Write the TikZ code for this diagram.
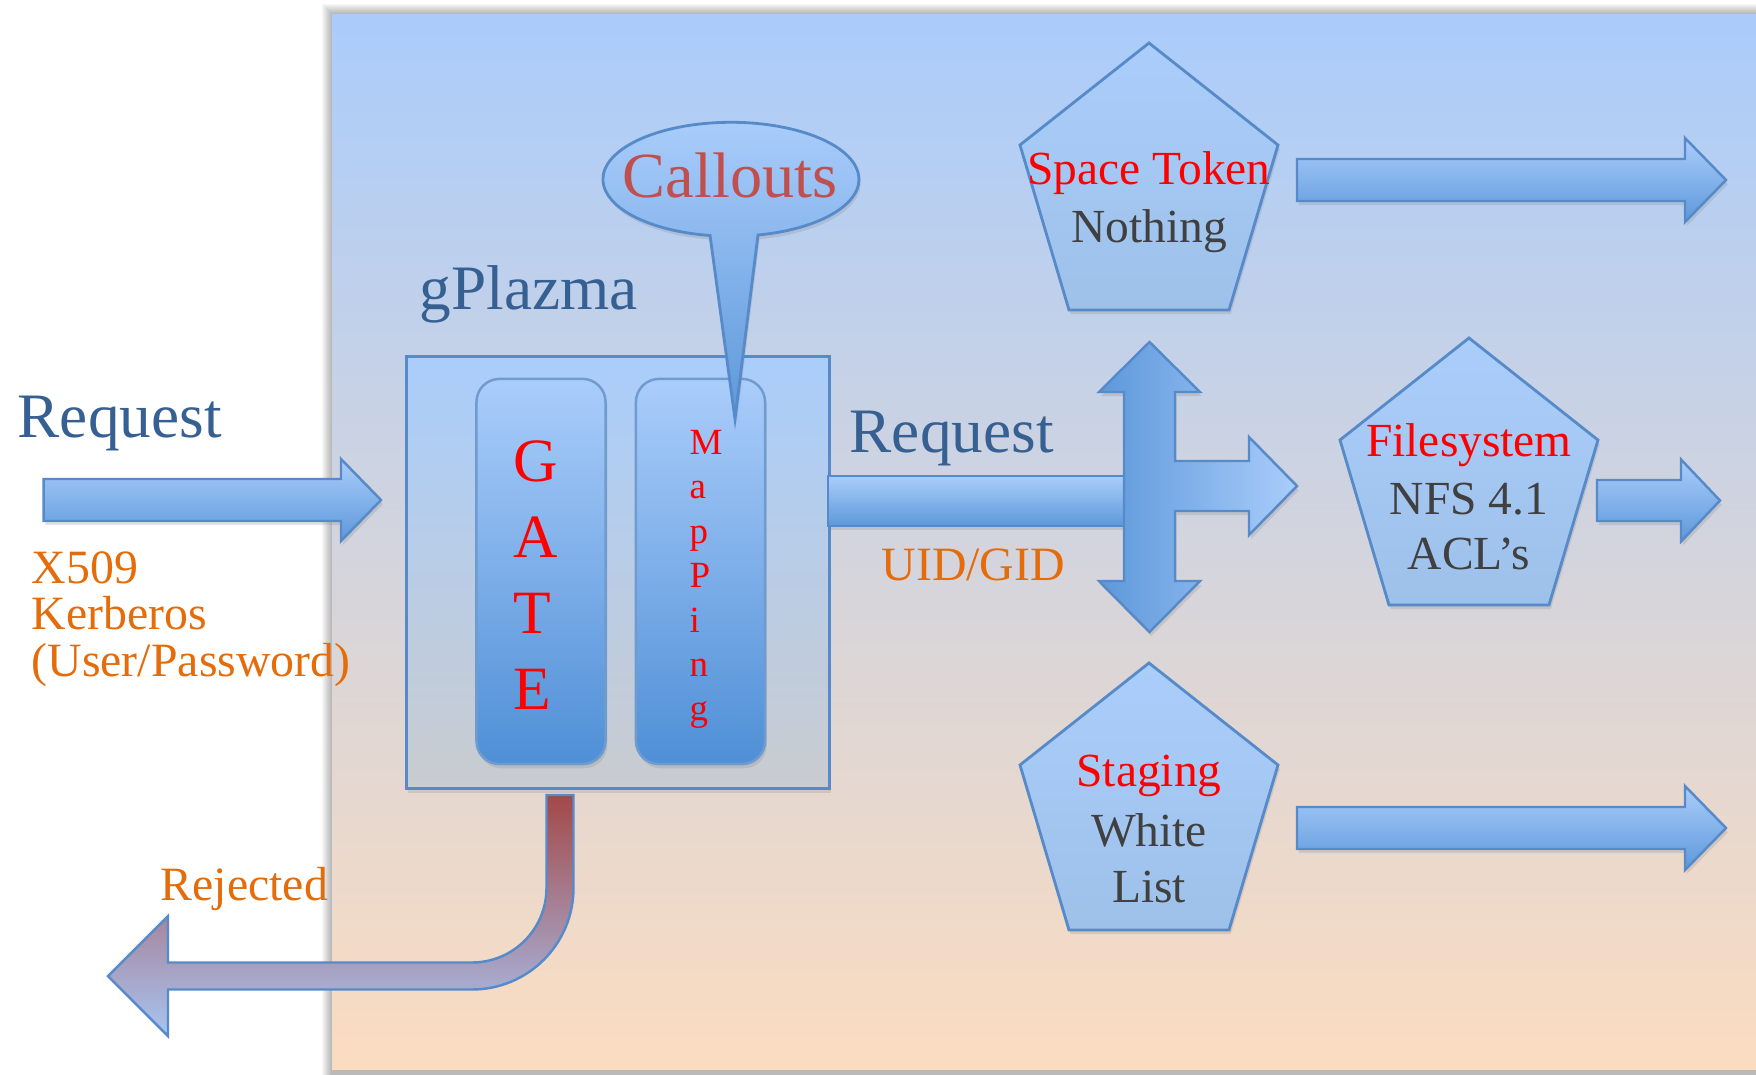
\documentclass[tikz,border=0pt]{standalone}
\usepackage{fontspec}
\setmainfont{Liberation Serif}
\usetikzlibrary{shadows}

\definecolor{txtblue}{RGB}{55,96,146}
\definecolor{callred}{RGB}{192,80,77}
\definecolor{orng}{RGB}{228,108,10}
\definecolor{dgray}{RGB}{64,64,64}
\definecolor{edgeblue}{RGB}{86,138,200}
\definecolor{ltblue}{RGB}{170,205,251}
\definecolor{midblue}{RGB}{93,152,218}
\definecolor{colblue}{RGB}{79,143,214}
\definecolor{pentbot}{RGB}{158,193,234}
\definecolor{boxgray}{RGB}{201,204,208}
\definecolor{bgtop}{RGB}{170,204,251}
\definecolor{bgmid}{RGB}{216,214,226}
\definecolor{bgbot}{RGB}{251,220,192}
\definecolor{rejtop}{RGB}{163,72,72}
\definecolor{rejmid}{RGB}{168,150,182}
\definecolor{rejbot}{RGB}{168,196,242}

\begin{document}
\begin{tikzpicture}[x=0.01cm,y=-0.01cm]
\tikzstyle{softshadow}=[drop shadow={shadow xshift=0.5pt, shadow yshift=-1.2pt, opacity=0.22}]
\tikzstyle{blockarrow}=[draw=edgeblue, line width=0.7pt, top color=ltblue, bottom color=midblue, softshadow]
\tikzstyle{pent}=[draw=edgeblue, line width=0.8pt, top color=ltblue, bottom color=pentbot, softshadow]
\tikzstyle{column}=[draw=edgeblue!85, line width=0.7pt, rounded corners=0.23cm, top color=ltblue, bottom color=colblue, minimum width=1.29cm, minimum height=3.85cm, inner sep=0pt, softshadow]
\tikzstyle{txt}=[inner sep=0pt, anchor=base west]
\tikzstyle{big}=[txt, font=\fontsize{18}{20}\selectfont, text=txtblue]
\tikzstyle{small}=[txt, font=\fontsize{13.6}{15}\selectfont, text=orng]
\tikzstyle{ptxt}=[inner sep=0pt, anchor=base, font=\fontsize{13.5}{15}\selectfont, text=dgray]

\useasboundingbox (0,0) rectangle (1756,1075);
\foreach \i in {1,...,10} {
\fill[black, opacity=0.03] (332-\i,14-\i) rectangle (1756,1075);
}
\fill[top color=bgtop, middle color=bgmid, bottom color=bgbot] (332,14) rectangle (1756,1069);

\node[draw=edgeblue, line width=0.8pt, top color=ltblue, bottom color=boxgray, minimum width=4.23cm, minimum height=4.32cm, inner sep=0pt, anchor=north west, softshadow] (gplazma) at (405,355) {};
\node[column] (gate) at (541,571.5) {};
\node[column] (mapping) at (700.5,571.5) {};

\foreach \sx/\hx/\tx/\cy/\bw/\hw in {43.6/341/381/500/21/41, 1297/1685/1726/180/21/42, 1597/1681/1720/500.5/20.5/41, 1297/1685/1726/828/21/42} {
\path[blockarrow] (\sx,\cy-\bw) -- (\hx,\cy-\bw) -- (\hx,\cy-\hw) -- (\tx,\cy) -- (\hx,\cy+\hw) -- (\hx,\cy+\bw) -- (\sx,\cy+\bw) -- cycle;
}
\path[blockarrow] (828,476) rectangle (1124,526);
\path[draw=edgeblue, line width=0.7pt, left color=midblue, right color=ltblue, softshadow] (1149.5,342) -- (1200,392) -- (1175,392) -- (1175,461) -- (1249,461) -- (1249,437) -- (1297,486) -- (1249,535) -- (1249,511) -- (1175,511) -- (1175,581) -- (1200,581) -- (1149.5,632) -- (1099,581) -- (1124,581) -- (1124,392) -- (1099,392) -- cycle;

\foreach \px/\py in {1149/43, 1469/338, 1149/663} {
\path[pent] (\px,\py) -- ++(129,102) -- ++(-49,165) -- ++(-160,0) -- ++(-49,-165) -- cycle;
}

\path[draw=edgeblue, line width=0.8pt, top color=ltblue, bottom color=midblue, softshadow] (758,235) arc[start angle=77.8, end angle=-260.6, x radius=128, y radius=57] -- (735,419) -- cycle;

\path[draw=edgeblue, line width=0.7pt, top color=rejtop, middle color=rejmid, bottom color=rejbot] (546.5,795) -- (573.5,795) -- (573.5,888) arc[start angle=0, end angle=90, radius=101.5] -- (168,989.5) -- (168,1036) -- (108,976) -- (168,916) -- (168,962.5) -- (472,962.5) arc[start angle=90, end angle=0, radius=74.5] -- cycle;

\node[big] (req) at (17,437) {Request};
\node[big] (plazma) at (419,309) {gPlazma};
\node[big] (req2) at (849,452) {Request};
\node[inner sep=0pt, anchor=base, font=\fontsize{18.3}{20}\selectfont, text=callred] (callouts) at (730,197) {Callouts};

\foreach \t [count=\i] in {X509, Kerberos, {(User/Password)}} {
\node[small] (auth\i) at (31,536.5+46.5*\i) {\t};
}
\node[small] (uid) at (881,580) {UID/GID};
\node[small] (rej) at (160,900) {Rejected};

\foreach \l [count=\i] in {G,A,T,E} {
\node[txt, font=\fontsize{17.5}{19}\selectfont, text=red] (g\i) at (513,405+76*\i) {\l};
}
\foreach \l [count=\i] in {M,a,p,P,i,n,g} {
\node[txt, font=\fontsize{10.5}{12}\selectfont, text=red] (m\i) at (689,410+44.4*\i) {\l};
}

\node[ptxt, text=red] (space1) at (1149,184) {Space Token};
\node[ptxt] (space2) at (1149,242) {Nothing};
\node[ptxt, text=red] (fs1) at (1469,456) {Filesystem};
\node[ptxt] (fs2) at (1469,514) {NFS 4.1};
\node[ptxt] (fs3) at (1469,569) {ACL’s};
\node[ptxt, text=red] (stage1) at (1149,786) {Staging};
\node[ptxt] (stage2) at (1149,846) {White};
\node[ptxt] (stage3) at (1149,902) {List};
\end{tikzpicture}
\end{document}
